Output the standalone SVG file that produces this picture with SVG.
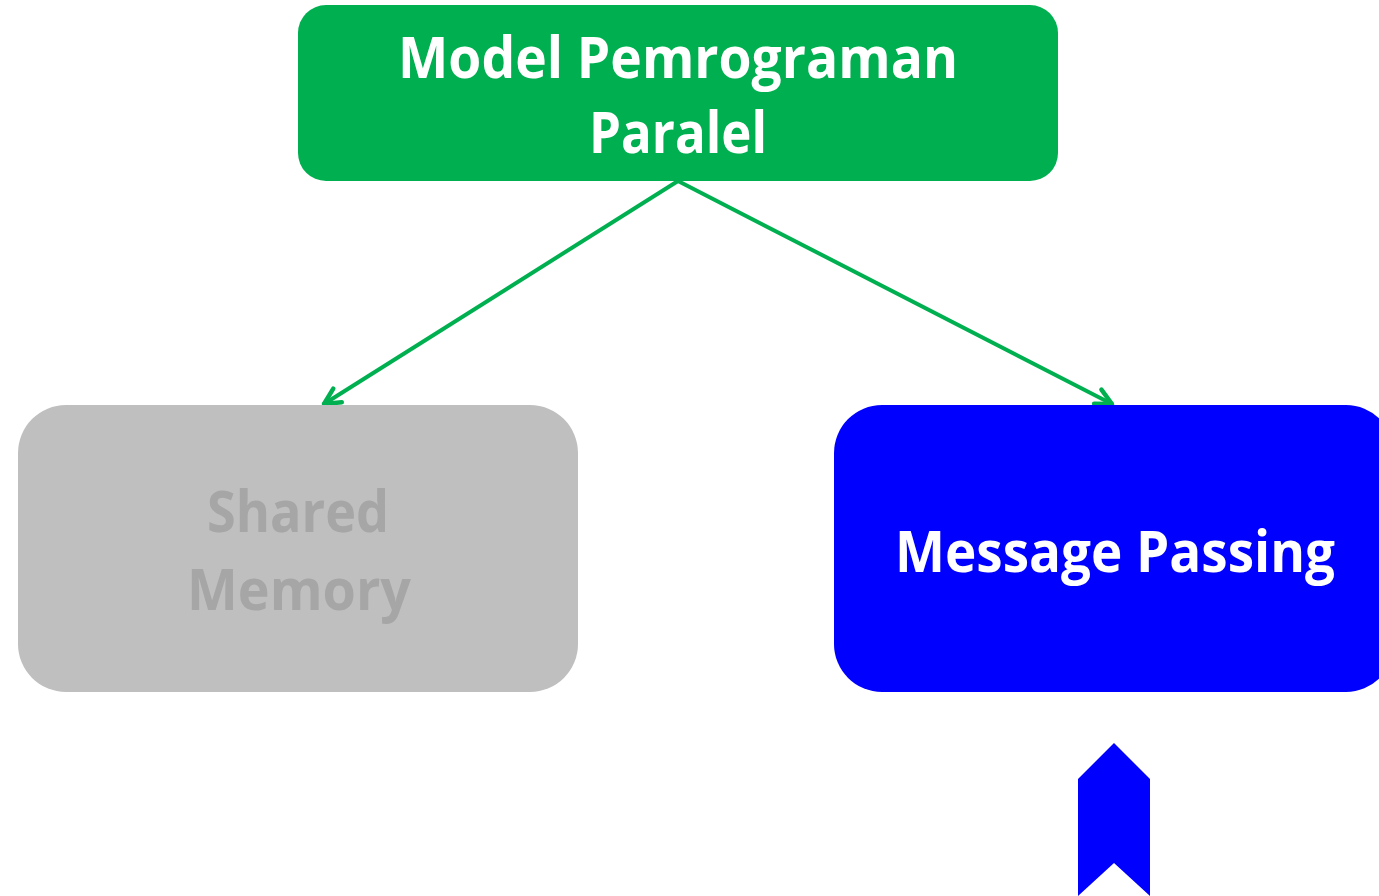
<svg xmlns="http://www.w3.org/2000/svg" width="1379" height="896" viewBox="0 0 1379 896">
  <defs>
    <style>
      .lbl { font-family: "Open Sans", "Liberation Sans", sans-serif; font-weight: 700; font-size: 58px; text-anchor: middle; }
      .conn { stroke: #00B050; stroke-width: 4; fill: none; stroke-linecap: round; }
    </style>
    <marker id="arr" viewBox="0 0 24 24" refX="21" refY="12" markerWidth="24" markerHeight="24" markerUnits="userSpaceOnUse" orient="auto">
      <path d="M5,4 L21,12 L5,20" fill="none" stroke="#00B050" stroke-width="4.5" stroke-linecap="round" stroke-linejoin="round"/>
    </marker>
  </defs>
  <rect width="1379" height="896" fill="#ffffff"/>

  <g id="connectors">
    <line class="conn" x1="678" y1="181" x2="324" y2="404" marker-end="url(#arr)"/>
    <line class="conn" x1="678" y1="181" x2="1112" y2="404" marker-end="url(#arr)"/>
  </g>

  <g id="node-model">
    <rect x="298" y="5" width="760" height="176" rx="28" fill="#00B050"/>
    <text class="lbl" x="678" y="78" fill="#ffffff" textLength="560" lengthAdjust="spacingAndGlyphs">Model Pemrograman</text>
    <text class="lbl" x="678" y="153" fill="#ffffff" textLength="178" lengthAdjust="spacingAndGlyphs">Paralel</text>
  </g>

  <g id="node-shared">
    <rect x="18" y="405" width="560" height="287" rx="48" fill="#BFBFBF"/>
    <text class="lbl" x="298" y="532" fill="#A6A6A6" textLength="182" lengthAdjust="spacingAndGlyphs">Shared</text>
    <text class="lbl" x="299" y="610" fill="#A6A6A6" textLength="224" lengthAdjust="spacingAndGlyphs">Memory</text>
  </g>

  <g id="node-message">
    <rect x="834" y="405" width="560" height="287" rx="48" fill="#0000FF"/>
    <text class="lbl" x="1115" y="572" fill="#ffffff" textLength="440" lengthAdjust="spacingAndGlyphs">Message Passing</text>
  </g>

  <g id="chevron">
    <polygon points="1114,743 1150,779 1150,896 1114,863 1078,896 1078,779" fill="#0000FF"/>
  </g>
</svg>
